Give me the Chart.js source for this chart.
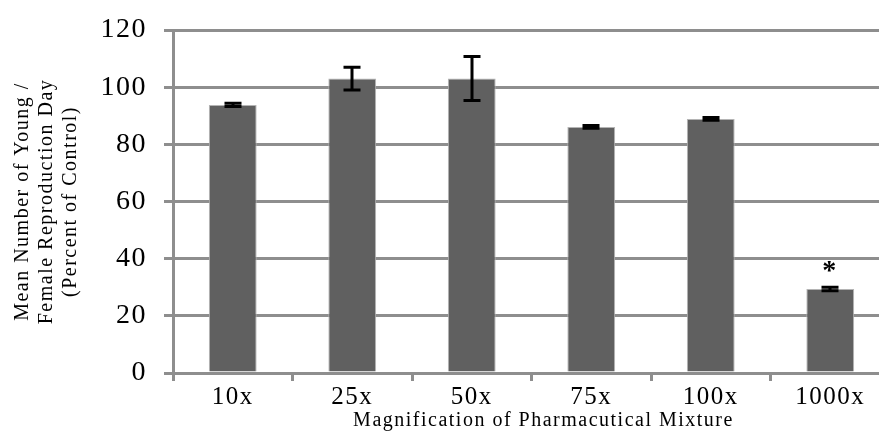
<!DOCTYPE html>
<html>
<head>
<meta charset="utf-8">
<script src="https://cdn.jsdelivr.net/npm/chart.js@4.4.1/dist/chart.umd.min.js"></script>
<style>
  html, body { margin: 0; padding: 0; background: #fff; overflow: hidden; }
  #wrap { width: 900px; height: 437px; }
</style>
</head>
<body>
<div id="wrap"><canvas id="reproChart" width="900" height="437"></canvas></div>
<script>
/* =========================================
   Données
   ========================================= */
var categories = ['10x', '25x', '50x', '75x', '100x', '1000x'];
var meanValues = [93.8, 103, 103, 86.1, 88.9, 29.4];
var errValues = [0.6, 4, 7.7, 0.5, 0.5, 0.6];
var sigMarks = ['', '', '', '', '', '*'];
var yTicks = [0, 20, 40, 60, 80, 100, 120];
var xTitle = 'Magnification of Pharmacutical Mixture';

var gridGray = '#8e8e8e';
var serif = '"Liberation Serif", "DejaVu Serif", serif';

// Espacement des lettres comme dans l'original (texte "étiré")
var spacingPlugin = {
    id: 'letterSpacing',
    beforeUpdate: function(chart) { chart.ctx.letterSpacing = '1.5px'; },
    beforeDraw: function(chart) { chart.ctx.letterSpacing = '1.5px'; }
};

// Titre de l'axe X (légèrement décalé vers la droite comme l'original)
var xTitlePlugin = {
    id: 'xTitle',
    afterDraw: function(chart) {
        var ctx = chart.ctx;
        var area = chart.chartArea;
        ctx.save();
        ctx.letterSpacing = '1.5px';
        ctx.fillStyle = '#000';
        ctx.font = '20px ' + serif;
        ctx.textAlign = 'center';
        ctx.textBaseline = 'middle';
        ctx.fillText(xTitle, (area.left + area.right) / 2 + 12, 421);
        ctx.restore();
    }
};

// Barres d'erreur + astérisque
var errorBarsPlugin = {
    id: 'errorBars',
    afterDatasetsDraw: function(chart) {
        var ctx = chart.ctx;
        var yScale = chart.scales.y;
        var meta = chart.getDatasetMeta(0);
        ctx.save();
        ctx.strokeStyle = '#000';
        ctx.lineWidth = 3;
        meta.data.forEach(function(bar, i) {
            var x = Math.round(bar.x);
            var yTop = yScale.getPixelForValue(meanValues[i] + errValues[i]);
            var yBot = yScale.getPixelForValue(meanValues[i] - errValues[i]);
            var half = 8.5;
            ctx.beginPath();
            ctx.moveTo(x, yTop); ctx.lineTo(x, yBot);
            ctx.moveTo(x - half, yTop); ctx.lineTo(x + half, yTop);
            ctx.moveTo(x - half, yBot); ctx.lineTo(x + half, yBot);
            ctx.stroke();
            if (sigMarks[i]) {
                ctx.fillStyle = '#000';
                ctx.font = 'bold 28px ' + serif;
                ctx.textAlign = 'center';
                ctx.textBaseline = 'middle';
                ctx.fillText(sigMarks[i], x, yTop - 15);
            }
        });
        ctx.restore();
    }
};

var reproCtx = document.getElementById('reproChart').getContext('2d');

var reproChart = new Chart(reproCtx, {
    type: 'bar',
    data: {
        labels: categories,
        datasets: [{
            label: 'Mean',
            data: meanValues,
            backgroundColor: '#606060',
            borderColor: '#b4b4b4',
            borderWidth: 1,
            barPercentage: 0.4,
            categoryPercentage: 1.0
        }]
    },
    options: {
        responsive: false,
        animation: false,
        layout: { padding: { top: 30, right: 10, left: 0, bottom: 0 } },
        plugins: {
            legend: { display: false },
            tooltip: { enabled: false }
        },
        scales: {
            y: {
                min: 0,
                max: 120,
                afterBuildTicks: function(scale) {
                    scale.ticks = yTicks.map(function(v) { return { value: v }; });
                },
                afterFit: function(scale) { scale.width = 173; },
                grid: {
                    color: gridGray,
                    lineWidth: 3,
                    tickLength: 9,
                    tickColor: gridGray
                },
                border: { color: gridGray, width: 3 },
                ticks: {
                    color: '#000',
                    padding: 17,
                    font: { family: serif, size: 28, lineHeight: 0.6 }
                },
                title: {
                    display: true,
                    text: ['Mean Number of Young /', 'Female Reproduction Day', '(Percent of Control)'],
                    color: '#000',
                    font: { family: serif, size: 20, lineHeight: 1.2 },
                    padding: { top: 11, bottom: 0 }
                }
            },
            x: {
                afterFit: function(scale) { scale.height = 64; },
                grid: {
                    display: true,
                    drawOnChartArea: false,
                    drawTicks: true,
                    tickLength: 8,
                    tickColor: gridGray,
                    lineWidth: 3,
                    offset: true
                },
                border: { color: gridGray, width: 3 },
                ticks: {
                    color: '#000',
                    padding: 1,
                    font: { family: serif, size: 25 }
                }
            }
        }
    },
    plugins: [spacingPlugin, errorBarsPlugin, xTitlePlugin]
});
</script>
</body>
</html>
